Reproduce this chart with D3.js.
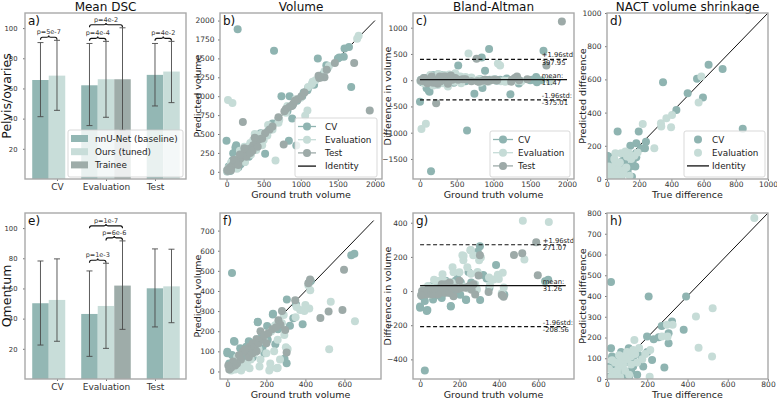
<!DOCTYPE html>
<html><head><meta charset="utf-8">
<script src="https://cdn.jsdelivr.net/npm/d3@7"></script>
<style>body{margin:0;background:#fff}</style>
</head><body>
<svg id="chart" width="777" height="401"></svg>
<script>
// ================= DATA =================
const categories = ["CV", "Evaluation", "Test"];
const methods = ["nnU-Net (baseline)", "Ours (tuned)", "Trainee"];
const methodSlots = [[-1, -1, 0], [0, 0, 1], [null, 1, null]];

const pelvisMean = [[65.6, 62.1, 69.0], [68.5, 66.1, 71.2], [null, 66.1, null]];
const pelvisLow  = [[41.3, 35.4, 48.4], [45.5, 40.9, 50.6], [null, 32.3, null]];
const pelvisHigh = [[90.4, 89.8, 89.8], [91.9, 91.2, 91.2], [null, 100.2, null]];
const pelvisBrackets = [
  {cat: 0, from: 0, to: 1, level: 0, label: "p=5e-7"},
  {cat: 1, from: 0, to: 1, level: 0, label: "p=4e-4"},
  {cat: 1, from: 0, to: 2, level: 0, label: "p=4e-2"},
  {cat: 2, from: 0, to: 1, level: 0, label: "p=4e-2"}
];

const omentumMean = [[50.2, 43.1, 60.1], [52.4, 48.4, 61.4], [null, 61.9, null]];
const omentumLow  = [[22.5, 15.0, 34.5], [25.0, 20.3, 37.3], [null, 32.9, null]];
const omentumHigh = [[78.2, 71.6, 86.2], [79.6, 76.7, 86.0], [null, 91.5, null]];
const omentumBrackets = [
  {cat: 1, from: 0, to: 1, level: 0, label: "p=1e-3"},
  {cat: 1, from: 1, to: 2, level: 0, label: "p=6e-6"},
  {cat: 1, from: 0, to: 2, level: 1, label: "p=1e-7"}
];
const dscTicks = [20, 40, 60, 80, 100];

// Pelvis/ovaries volumes [ground truth, predicted]
const pelvisVolCV = [[150,1885],[640,1600],[1230,1500],[1580,1520],[1345,1410],[1680,1120],[740,1000],[850,1000],
 [0,410],[130,350],[840,410],[940,348],[520,240],[1520,1510],[1650,1650],[1360,1370],[1250,1260],
 [1090,1080],[1040,1050],[950,940],[890,880],[820,800],[700,700],[620,640],[560,540],[470,460],[430,400],
 [380,370],[330,350],[300,280],[260,250],[220,200],[180,170],[150,140],[120,100],[90,80],[60,50],[40,30],
 [20,20],[10,5],[250,170],[300,200],[350,300],[200,260],[100,60],[80,150],[160,60],[240,130],[280,330],
 [1500,1500],[885,704],[1100,1110],[1300,1290],[30,70],[50,10],[110,170],[190,100],[400,320],[460,510],
 [1020,1000],[90,245],[120,320],[1590,1630],[1180,1150]];
const pelvisVolEval = [[20,950],[80,910],[1090,810],[1060,740],[1780,1800],[1760,1760],[1150,1160],[660,150],
 [380,500],[470,500],[1100,1120],[1380,1400],[1320,1330],[930,960],[700,650],[620,560],[550,480],[500,420],
 [450,460],[420,360],[350,300],[320,380],[280,250],[260,300],[230,190],[200,230],[170,140],[150,170],[130,100],
 [110,120],[90,60],[70,90],[50,30],[30,50],[15,10],[5,20],[400,290],[300,230],[480,350],[250,130],[560,620],
 [710,690],[800,780],[1000,980],[600,560],[360,420],[1200,1210],[1160,1190],[180,280],[140,40],[60,120],
 [240,330],[330,230],[820,870]];
const pelvisVolTest = [[1720,1440],[1930,810],[220,660],[770,360],[1320,1250],[960,960],[800,830],[880,870],
 [700,720],[1010,1000],[620,600],[580,560],[520,510],[480,440],[440,430],[400,400],[360,350],[330,310],
 [300,290],[280,300],[250,240],[230,220],[210,230],[190,180],[170,160],[150,150],[130,120],[110,110],[90,100],
 [70,70],[50,60],[30,40],[20,10],[10,20],[350,280],[270,200],[320,250],[180,230],[240,310],[1050,1050],
 [1290,1250],[1350,1350],[1250,1240],[900,900],[850,860],[1460,1440],[920,940],[780,800],[1240,1270],
 [60,20],[100,160],[160,90],[380,450],[420,330]];

// Pelvis NACT shrinkage [true difference, predicted difference]
const pelvisShrinkCV = [[631,688],[718,662],[348,583],[559,604],[501,517],[596,491],[431,416],[197,286],[66,286],
 [843,302],[145,201],[182,215],[242,225],[236,185],[211,185],[180,155],[182,131],[159,85],[155,14],[104,115],
 [10,135],[0,140],[20,115],[72,75],[20,14],[93,105],[145,75],[176,75],[128,44],[5,95],[40,50],[110,90],
 [60,30],[130,150],[15,60],[160,110],[90,20]];
const pelvisShrinkEval = [[586,618],[569,461],[404,386],[369,366],[398,312],[337,316],[335,336],[222,332],
 [294,185],[124,135],[87,155],[52,95],[104,54],[41,34],[58,24],[83,4],[135,155],[114,165],[52,155],[10,75],
 [31,64],[30,10],[70,60],[100,30],[150,120],[20,40],[45,120],[80,100],[120,70],[60,0],[5,5],[170,140],
 [190,160],[140,20]];

// Omentum volumes [ground truth, predicted]
const omentumVolCV = [[24,489],[635,577],[651,585],[420,445],[428,450],[352,334],[386,234],[321,227],[338,264],
 [233,283],[156,247],[204,226],[178,181],[207,157],[246,135],[304,41],[37,148],[0,91],[24,82],[66,115],
 [97,123],[293,63],[34,151],[0,98],[156,244],[234,287],[305,358],[120,130],[140,110],[80,60],[60,30],
 [40,20],[20,10],[100,80],[130,70],[180,120],[110,150],[260,210],[190,90],[50,50],[10,40],[150,160]];
const omentumVolEval = [[654,250],[522,110],[530,346],[415,428],[425,404],[420,313],[373,305],[355,320],
 [289,280],[245,230],[292,181],[224,198],[258,157],[309,112],[221,16],[255,16],[165,25],[114,16],[71,5],
 [258,18],[215,5],[220,40],[300,120],[270,60],[190,150],[160,110],[140,90],[120,60],[100,40],[80,20],
 [60,40],[40,10],[20,5],[30,30],[50,70],[90,100],[130,120],[170,60],[200,90],[240,100],[280,240],
 [350,270],[395,300],[400,330]];
const omentumVolTest = [[598,506],[590,305],[519,298],[477,266],[348,354],[262,255],[272,232],[297,206],
 [304,94],[114,123],[80,99],[415,438],[424,457],[120,110],[130,140],[140,120],[150,160],[160,140],[170,200],
 [180,160],[100,90],[90,110],[70,60],[60,80],[50,40],[40,30],[30,50],[20,20],[10,10],[5,30],[110,70],
 [130,90],[150,100],[190,180],[210,190],[230,210],[200,140],[250,220],[280,300]];

// Omentum NACT shrinkage [true difference, predicted difference]
const omentumShrinkCV = [[20,467],[207,398],[393,398],[272,256],[323,277],[381,237],[306,221],[306,172],
 [257,201],[232,192],[199,205],[285,56],[224,92],[20,148],[25,108],[149,124],[108,148],[130,105],[90,80],
 [60,50],[40,20],[10,60],[5,10],[120,40],[150,20],[170,110],[200,130],[70,130],[100,90],[50,100],[130,60],
 [80,15],[180,60],[110,10],[30,70]];
const omentumShrinkEval = [[732,776],[525,341],[442,301],[326,261],[298,261],[301,205],[273,205],[455,151],
 [522,108],[212,11],[215,140],[190,120],[136,188],[160,150],[140,120],[120,110],[100,95],[80,70],[70,90],
 [60,60],[50,40],[40,80],[30,30],[20,10],[10,50],[90,40],[110,20],[65,10],[150,80],[130,140],[100,130],
 [45,5],[85,110],[25,90],[175,95],[120,70],[60,115]];

// Bland-Altman statistics
const baNamesC = ["+1.96std:", "mean:", "-1.96std:"];
const baValuesC = [397.95, 11.47, -375.01];
const baNamesG = ["+1.96std:", "mean:", "-1.96std:"];
const baValuesG = [271.07, 31.26, -208.56];

const titles = ["Mean DSC", "Volume", "Bland-Altman", "NACT volume shrinkage"];
const rowLabels = ["Pelvis/ovaries", "Omentum"];
const seriesNames = ["CV", "Evaluation", "Test"];

// ================= STYLE / LAYOUT =================
const FONT = "'DejaVu Sans', sans-serif";
const colCV = "#8fb4b1", colEval = "#c6dcd7", colTest = "#9daaa8";
const barCols = ["#93b7b4", "#c8ddd9", "#9eaca9"];
const svg = d3.select("#chart");
let clipN = 0;
const fmt = d => d < 0 ? "\u2212" + Math.abs(d) : String(d);

function makePanel(box, xDom, yDom) {
  const x = d3.scaleLinear().domain(xDom).range([box[0], box[1]]);
  const y = d3.scaleLinear().domain(yDom).range([box[3], box[2]]);
  const id = "cp" + (clipN++);
  svg.append("clipPath").attr("id", id).append("rect")
    .attr("x", box[0]).attr("y", box[2]).attr("width", box[1] - box[0]).attr("height", box[3] - box[2]);
  const g = svg.append("g");
  const plot = g.append("g").attr("clip-path", `url(#${id})`);
  return {x, y, g, plot, box};
}
function styleAxis(a, fs) {
  a.select(".domain").remove();
  a.selectAll("line").attr("stroke", "#555").attr("stroke-width", 0.8);
  a.selectAll("text").attr("fill", "#333").style("font-size", fs + "px").style("font-family", FONT);
}
function drawAxes(p, xTicks, yTicks, o = {}) {
  const xa = d3.axisBottom(p.x).tickValues(xTicks).tickSize(2).tickPadding(o.xpad ?? 0.5).tickFormat(o.xfmt || fmt);
  const ya = d3.axisLeft(p.y).tickValues(yTicks).tickSize(2).tickPadding(o.ypad ?? 3.5).tickFormat(fmt);
  const gx = p.g.append("g").attr("transform", `translate(0,${p.box[3]})`).call(xa);
  const gy = p.g.append("g").attr("transform", `translate(${p.box[0]},0)`).call(ya);
  styleAxis(gx, o.xfs || 7.5); styleAxis(gy, o.yfs || 7.5);
  p.g.append("rect").attr("x", p.box[0]).attr("y", p.box[2])
    .attr("width", p.box[1] - p.box[0]).attr("height", p.box[3] - p.box[2])
    .attr("fill", "none").attr("stroke", "#a9a9a9").attr("stroke-width", 1.4);
}
function letter(p, t) {
  svg.append("text").attr("x", p.box[0] + 3).attr("y", p.box[2] + 11.5).text(t)
    .style("font-family", FONT).style("font-size", "12px").attr("fill", "#111");
}
function labels(p, xl, yl, ylx) {
  if (xl) svg.append("text").attr("x", (p.box[0] + p.box[1]) / 2).attr("y", p.box[3] + 18.5)
    .attr("text-anchor", "middle").text(xl).style("font-family", FONT).style("font-size", "9.5px").attr("fill", "#222");
  if (yl) svg.append("text").attr("transform", `translate(${ylx},${(p.box[2] + p.box[3]) / 2}) rotate(-90)`)
    .attr("text-anchor", "middle").text(yl).style("font-family", FONT).style("font-size", "9.5px").attr("fill", "#222");
}
function dots(p, data, color, fx = d => d[0], fy = d => d[1]) {
  p.plot.append("g").selectAll("circle").data(data).join("circle")
    .attr("cx", d => p.x(fx(d))).attr("cy", d => p.y(fy(d))).attr("r", 4).attr("fill", color);
}
function identity(p, a, b) {
  p.plot.append("line").attr("x1", p.x(a)).attr("y1", p.y(a)).attr("x2", p.x(b)).attr("y2", p.y(b))
    .attr("stroke", "#111").attr("stroke-width", 1);
}
function legend(x0, y0, w, h, items, hx0, hx1, tx) {
  const g = svg.append("g");
  g.append("rect").attr("x", x0).attr("y", y0).attr("width", w).attr("height", h).attr("rx", 2)
    .attr("fill", "#fff").attr("fill-opacity", 0.8).attr("stroke", "#cfcfcf").attr("stroke-width", 0.8);
  items.forEach((it, i) => {
    const yy = y0 + 8.5 + i * 13.2;
    if (it.type === "patch") g.append("rect").attr("x", hx0).attr("y", yy - 3.5).attr("width", hx1 - hx0).attr("height", 7).attr("fill", it.color);
    if (it.type === "linemarker" || it.type === "line") g.append("line").attr("x1", hx0).attr("x2", hx1).attr("y1", yy).attr("y2", yy).attr("stroke", it.color).attr("stroke-width", 1.3);
    if (it.type === "linemarker" || it.type === "marker") g.append("circle").attr("cx", (hx0 + hx1) / 2).attr("cy", yy).attr("r", 4).attr("fill", it.color);
    g.append("text").attr("x", tx).attr("y", yy + 3.2).text(it.label).style("font-family", FONT).style("font-size", "8.8px").attr("fill", "#222");
  });
}

// ---------- bar panels ----------
const slotW = 0.337;
function barPanel(box, means, lows, highs, brackets, rowLabel, let_) {
  const p = makePanel(box, [-0.653, 2.633], [0, 110]);
  const cx = (mi, ci) => ci + methodSlots[mi][ci] * slotW;
  methods.forEach((m, mi) => categories.forEach((c, ci) => {
    const v = means[mi][ci]; if (v == null) return;
    p.plot.append("rect").attr("x", p.x(cx(mi, ci) - slotW / 2)).attr("width", p.x(slotW) - p.x(0))
      .attr("y", p.y(v)).attr("height", p.y(0) - p.y(v)).attr("fill", barCols[mi]);
  }));
  methods.forEach((m, mi) => categories.forEach((c, ci) => {
    const v = means[mi][ci]; if (v == null) return;
    const xx = p.x(cx(mi, ci));
    const e = p.plot.append("g").attr("stroke", "#4a4a4a").attr("stroke-width", 0.9);
    e.append("line").attr("x1", xx).attr("x2", xx).attr("y1", p.y(lows[mi][ci])).attr("y2", p.y(highs[mi][ci]));
    [lows[mi][ci], highs[mi][ci]].forEach(val => e.append("line").attr("x1", xx - 3).attr("x2", xx + 3).attr("y1", p.y(val)).attr("y2", p.y(val)));
  }));
  brackets.forEach(b => {
    const ms = methods.map((m, mi) => mi).filter(mi => mi >= b.from && mi <= b.to && means[mi][b.cat] != null);
    const top = d3.max(ms, mi => highs[mi][b.cat]) + 2 + b.level * 8;
    const x1 = p.x(cx(b.from, b.cat)), x2 = p.x(cx(b.to, b.cat)), xm = (x1 + x2) / 2, yy = p.y(top);
    p.plot.append("path").attr("d", `M${x1},${yy + 2.5} Q${x1},${yy} ${x1 + 2},${yy} L${xm - 2},${yy} Q${xm},${yy} ${xm},${yy - 1.8} Q${xm},${yy} ${xm + 2},${yy} L${x2 - 2},${yy} Q${x2},${yy} ${x2},${yy + 2.5}`)
      .attr("fill", "none").attr("stroke", "#111").attr("stroke-width", 1.1);
    p.plot.append("text").attr("x", xm).attr("y", yy - 3).attr("text-anchor", "middle").text(b.label)
      .style("font-family", FONT).style("font-size", "6.5px").attr("fill", "#333");
  });
  drawAxes(p, [0, 1, 2], dscTicks, {xfmt: i => categories[i], xfs: 9, xpad: 2.5, yfs: 6.8, ypad: 5.5});
  svg.append("text").attr("transform", `translate(11,${(box[2] + box[3]) / 2}) rotate(-90)`)
    .attr("text-anchor", "middle").text(rowLabel).style("font-family", FONT).style("font-size", "12.5px").attr("fill", "#111");
  letter(p, let_);
  return p;
}

// ---------- scatter panels ----------
function volumePanel(box, dom, data3, ticks, let_, idMax) {
  const p = makePanel(box, dom[0], dom[1]);
  identity(p, 0, idMax);
  dots(p, data3[0], colCV); dots(p, data3[1], colEval); dots(p, data3[2], colTest);
  drawAxes(p, ticks[0], ticks[1]);
  letter(p, let_);
  return p;
}
function baPanel(box, dom, data3, ticks, let_, names, vals, xEnd, textX) {
  const p = makePanel(box, dom[0], dom[1]);
  const cols = [colCV, colEval, colTest];
  data3.forEach((d, i) => dots(p, d, cols[i], v => v[0], v => v[0] - v[1]));
  vals.forEach((v, i) => {
    p.plot.append("line").attr("x1", p.x(0)).attr("x2", p.x(xEnd)).attr("y1", p.y(v)).attr("y2", p.y(v))
      .attr("stroke", "#111").attr("stroke-width", 1.2).attr("stroke-dasharray", i === 1 ? null : "4,2.5");
    const t = p.plot.append("text").style("font-family", FONT).style("font-size", "6.8px").attr("fill", "#222");
    t.append("tspan").attr("x", p.x(textX)).attr("y", p.y(v) - 2).text(names[i]);
    t.append("tspan").attr("x", p.x(textX)).attr("y", p.y(v) + 5.5).text(v.toFixed(2));
  });
  drawAxes(p, ticks[0], ticks[1]);
  letter(p, let_);
  return p;
}
function shrinkPanel(box, dom, data2, ticks, let_) {
  const p = makePanel(box, dom[0], dom[1]);
  identity(p, 0, dom[0][1]);
  dots(p, data2[0], colCV); dots(p, data2[1], colEval);
  drawAxes(p, ticks[0], ticks[1]);
  letter(p, let_);
  return p;
}

// ================= DRAW =================
const boxA = [25, 186, 13, 179], boxE = [25, 186, 213, 379];
const boxB = [220, 382, 13, 179], boxF = [220, 381, 213, 379];
const boxC = [413, 574, 13, 179], boxG = [413, 574, 213, 379];
const boxD = [607, 768, 13, 179], boxH = [607, 768, 213, 379];

[boxA, boxB, boxC, boxD].forEach((b, i) => svg.append("text").attr("x", (b[0] + b[1]) / 2).attr("y", 10.5)
  .attr("text-anchor", "middle").text(titles[i]).style("font-family", FONT).style("font-size", "12px").attr("fill", "#111"));

barPanel(boxA, pelvisMean, pelvisLow, pelvisHigh, pelvisBrackets, rowLabels[0], "a)");
legend(68, 130, 115, 47, methods.map((m, i) => ({type: "patch", color: barCols[i], label: m})), 71, 88, 95);
barPanel(boxE, omentumMean, omentumLow, omentumHigh, omentumBrackets, rowLabels[1], "e)");

const pB = volumePanel(boxB, [[-88, 2095], [-95, 2100]], [pelvisVolCV, pelvisVolEval, pelvisVolTest],
  [[0, 500, 1000, 1500, 2000], [0, 250, 500, 750, 1000, 1250, 1500, 1750, 2000]], "b)", 2000);
labels(pB, "Ground truth volume", "Predicted volume", 201);
legend(295, 118, 82, 59, [
  {type: "linemarker", color: colCV, label: seriesNames[0]},
  {type: "linemarker", color: colEval, label: seriesNames[1]},
  {type: "linemarker", color: colTest, label: seriesNames[2]},
  {type: "line", color: "#111", label: "Identity"}], 298, 316, 325);

const pC = baPanel(boxC, [[-95, 2095], [-1882, 1280]], [pelvisVolCV, pelvisVolEval, pelvisVolTest],
  [[0, 500, 1000, 1500, 2000], [-1500, -1000, -500, 0, 500, 1000]], "c)", baNamesC, baValuesC, 2000, 1656);
labels(pC, "Ground truth volume", "Difference in volume", 391);
legend(490, 131, 80, 46, [
  {type: "linemarker", color: colCV, label: seriesNames[0]},
  {type: "linemarker", color: colEval, label: seriesNames[1]},
  {type: "linemarker", color: colTest, label: seriesNames[2]}], 493, 513, 518);

const pD = shrinkPanel(boxD, [[0, 1000], [0, 1000]], [pelvisShrinkCV, pelvisShrinkEval],
  [[0, 200, 400, 600, 800, 1000], [0, 200, 400, 600, 800, 1000]], "d)");
labels(pD, "True difference", "Predicted difference", 586);
legend(684, 131, 81, 46, [
  {type: "marker", color: colCV, label: seriesNames[0]},
  {type: "marker", color: colEval, label: seriesNames[1]},
  {type: "line", color: "#111", label: "Identity"}], 687, 709, 712);

const pF = volumePanel(boxF, [[-37.5, 787.5], [-37.5, 787.5]], [omentumVolCV, omentumVolEval, omentumVolTest],
  [[0, 200, 400, 600], [0, 100, 200, 300, 400, 500, 600, 700]], "f)", 750);
labels(pF, "Ground truth volume", "Predicted volume", 201);

const pG = baPanel(boxG, [[-36, 782], [-515, 457]], [omentumVolCV, omentumVolEval, omentumVolTest],
  [[0, 200, 400, 600], [-400, -200, 0, 200, 400]], "g)", baNamesG, baValuesG, 740, 623);
labels(pG, "Ground truth volume", "Difference in volume", 391);

const pH = shrinkPanel(boxH, [[0, 800], [0, 800]], [omentumShrinkCV, omentumShrinkEval],
  [[0, 200, 400, 600, 800], [0, 100, 200, 300, 400, 500, 600, 700, 800]], "h)");
labels(pH, "True difference", "Predicted difference", 586);
</script>
</body></html>
